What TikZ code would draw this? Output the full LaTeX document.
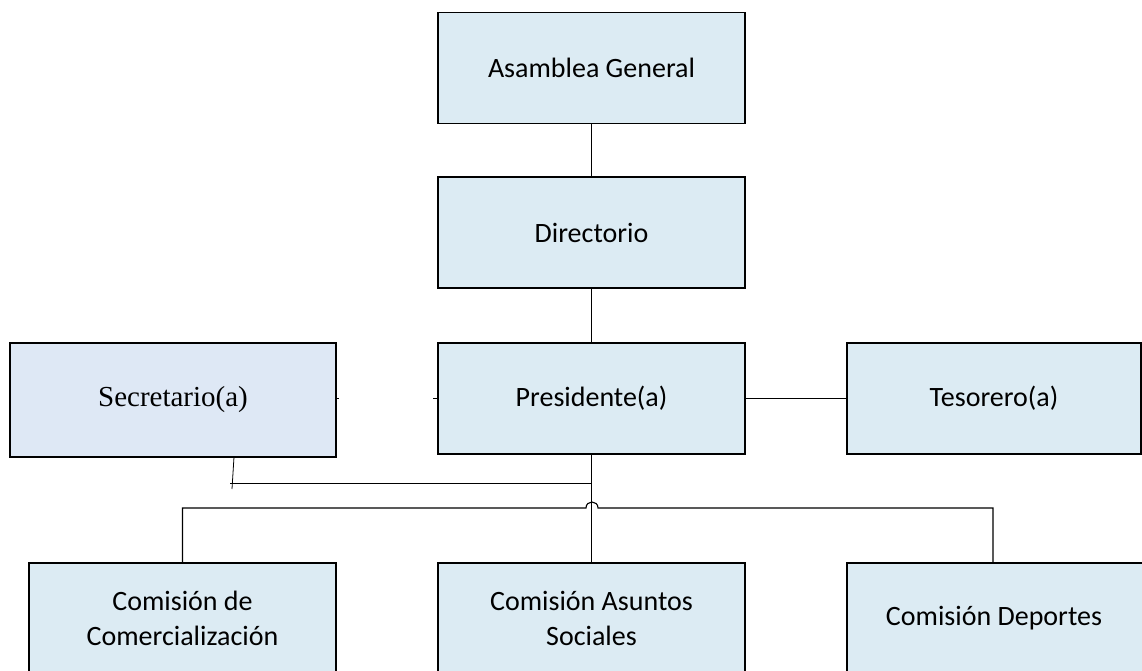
\documentclass[tikz,border=0pt]{standalone}
\usepackage{fontspec}
\setmainfont{Carlito}
\newfontfamily\timesfont{Liberation Serif}
\definecolor{boxfill}{HTML}{DCEBF3}
\definecolor{secfill}{HTML}{DEE8F5}
\begin{document}
\begin{tikzpicture}[x=1pt,y=-1pt,
  orgbox/.style={draw=black, line width=1.3pt, fill=boxfill, inner sep=0pt, outer sep=0pt,
    minimum width=307pt, minimum height=111pt, align=center,
    font=\fontsize{28}{35}\selectfont},
  secbox/.style={draw=black, line width=2.8pt, fill=secfill, inner sep=0pt, outer sep=0pt,
    minimum width=326pt, minimum height=114pt, align=center,
    font=\timesfont\fontsize{29}{35}\selectfont},
  conn/.style={draw=black, line width=1.1pt},
  thinconn/.style={draw=black, line width=0.8pt}]
\useasboundingbox (0,0) rectangle (1142,670);
\clip (0,0) rectangle (1142,670);
% boxes
\node[orgbox] (asam) at (591.5,68) {Asamblea General};
\node[orgbox] (dir) at (591.5,232.5) {Directorio};
\node[orgbox] (pres) at (591.5,398.5) {Presidente(a)};
\node[orgbox, minimum width=294pt] (tes) at (994,398.5) {Tesorero(a)};
\node[secbox] (sec) at (173,400) {Secretario(a)};
\node[orgbox] (comA) at (182.5,618.5) {Comisión de\\Comercialización};
\node[orgbox] (comB) at (591.5,618.5) {Comisión Asuntos\\Sociales};
\node[orgbox, minimum width=310pt] (comC) at (1002,618.5) {\hspace*{-16pt}Comisión Deportes};
% vertical chain
\draw[conn] (asam.south) -- (dir.north);
\draw[conn] (dir.south) -- (pres.north);
\draw[conn] (pres.east) -- (tes.west);
% stubs between Secretario and Presidente
\draw[thinconn] (sec.east |- pres.west) -- ++(3,0);
\draw[thinconn] (pres.west) -- ++(-5,0);
% Presidente down to middle commission
\draw[conn] (pres.south) -- (comB.north);
% Secretario tick and line to the trunk
\coordinate (sectop) at (234,457);
\coordinate (secbot) at (232,489);
\draw[thinconn] (sectop) -- (secbot);
\coordinate (secline) at (230,483);
\draw[thinconn] (secline) -- (pres.south |- secline);
% bus with hop
\coordinate (busy) at (0,508);
\coordinate (hopL) at (586,508);
\coordinate (hopR) at (598,508);
\draw[conn] (comA.north) -- (comA.north |- busy) -- (hopL)
  .. controls (586,500) and (598,500) .. (hopR)
  -- (993,508) coordinate (busR) -- (busR |- comC.north);
\end{tikzpicture}
\end{document}
